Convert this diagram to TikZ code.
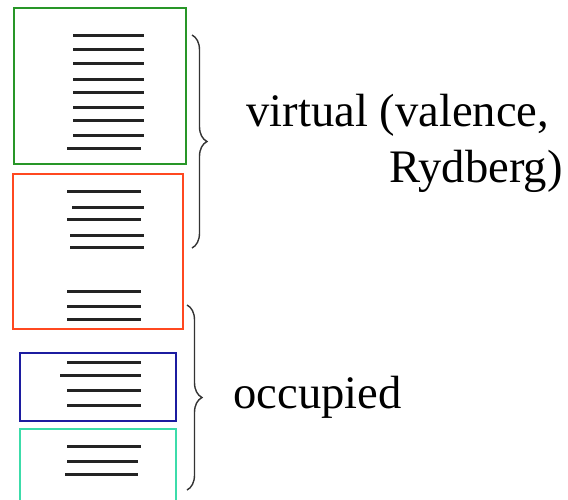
\documentclass[tikz,border=0pt]{standalone}
\usepackage{fontspec}
\setmainfont{Liberation Serif}
\usetikzlibrary{decorations.pathreplacing}
\definecolor{cgreen}{RGB}{40,150,40}
\definecolor{cred}{RGB}{255,72,32}
\definecolor{cblue}{RGB}{28,28,160}
\definecolor{cteal}{RGB}{60,220,170}
\definecolor{clev}{RGB}{35,35,35}
\tikzset{
  boxline/.style={line width=1.1pt},
  lev/.style={draw=clev,line width=1.5pt},
  bracestyle/.style={draw=black!80,line width=0.7pt,decorate,decoration={brace,amplitude=7.5pt}},
  lbl/.style={inner sep=0pt,font=\fontsize{23.3}{28}\selectfont}
}
\begin{document}
\begin{tikzpicture}[x=0.5pt,y=-0.5pt]
\useasboundingbox (0,0) rectangle (568,499);
\clip (0,0) rectangle (568,499);
% boxes
\draw[boxline,cgreen] (14,8) rectangle (186,164);
\draw[boxline,cred] (12.7,174.3) rectangle (183,329);
\draw[boxline,cblue] (20,352.7) rectangle (175.7,420.7);
\draw[boxline,cteal] (20,429) rectangle (175.7,505);
% green levels
\foreach \y in {35.7,49.3,63.3,79.3,92,107.3,120,135.3} \draw[lev] (73,\y) -- (144,\y);
\draw[lev] (67,148.3) -- (141,148.3);
% red levels
\draw[lev] (67,191.7) -- (141,191.7);
\draw[lev] (72,207.3) -- (144,207.3);
\draw[lev] (67,219.3) -- (141,219.3);
\draw[lev] (70,235) -- (144,235);
\draw[lev] (70,247.3) -- (144,247.3);
\foreach \y in {291,306.3,319} \draw[lev] (67,\y) -- (141,\y);
% blue levels
\draw[lev] (67,362.3) -- (141,362.3);
\draw[lev] (60,375) -- (141,375);
\draw[lev] (67,390.3) -- (141,390.3);
\draw[lev] (67,405.7) -- (141,405.7);
% teal levels
\draw[lev] (67,446.7) -- (141,446.7);
\draw[lev] (67,461.7) -- (138,461.7);
\draw[lev] (65,474.7) -- (138,474.7);
% braces
\coordinate (b1t) at (192,35);
\coordinate (b1b) at (192,248);
\coordinate (b2t) at (187,305);
\coordinate (b2b) at (187,490);
\draw[bracestyle] (b1t) -- (b1b);
\draw[bracestyle] (b2t) -- (b2b);
% labels
\node[lbl,anchor=base west] (virt) at (246,126) {virtual (valence,};
\node[lbl,anchor=base east] (ryd) at (563,182) {Rydberg)};
\node[lbl,anchor=base west] (occ) at (233,408) {occupied};
\end{tikzpicture}
\end{document}
